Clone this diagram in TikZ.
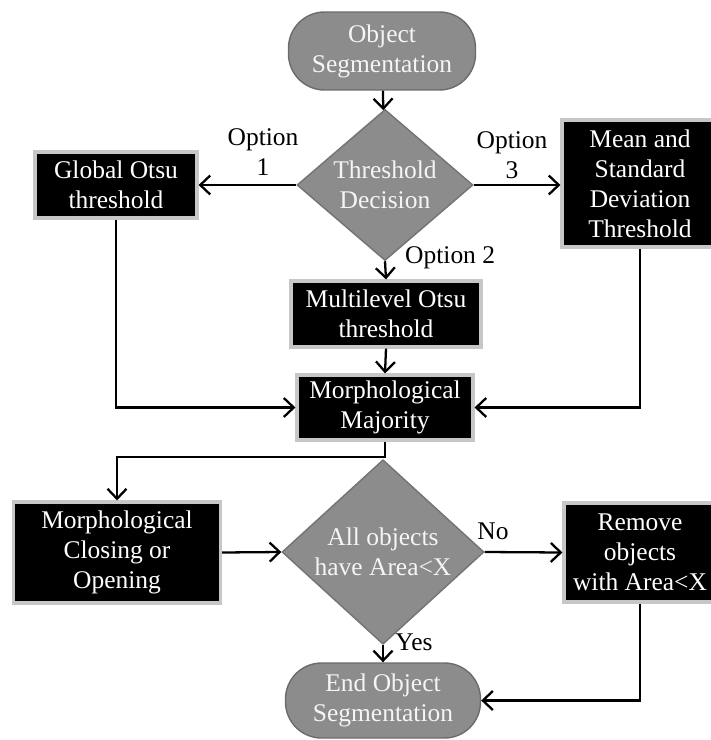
\documentclass[tikz,border=0pt]{standalone}
\usepackage{fontspec}
\setmainfont{Liberation Serif}
\usetikzlibrary{arrows.meta,shapes.geometric}
\tikzset{blk/.style={draw=black!22,line width=1.8pt,fill=black,text=white,align=center,inner sep=0pt},term/.style={draw=black!58,line width=0.8pt,fill=black!45,text=black!4,align=center,rounded corners=0.72cm,inner sep=0pt},dec/.style={diamond,draw=black!55,line width=0.8pt,fill=black!45,text=black!4,align=center,inner sep=0pt},arr/.style={-{Straight Barb[length=2mm,width=3.8mm,line width=1.3pt]},line width=1.3pt},lab/.style={align=center}}

\begin{document}
\begin{tikzpicture}[x=0.02cm,y=-0.02cm,font=\fontsize{14.5}{17}\selectfont]
\useasboundingbox (0,0) rectangle (710,740);
% top part: threshold choice
\node[term,minimum width=3.74cm,minimum height=1.56cm] (start) at (382,51) {Object\\Segmentation};
\node[dec,minimum width=3.52cm,minimum height=2.52cm] (thr) at (385,185) {Threshold\\Decision};
\node[blk,minimum width=3.24cm,minimum height=1.32cm] (gotsu) at (116,185) {Global Otsu\\threshold};
\node[blk,minimum width=3.12cm,minimum height=2.54cm] (msd) at (640,183.5) {Mean and\\Standard\\Deviation\\Threshold};
\node[blk,minimum width=3.8cm,minimum height=1.32cm] (motsu) at (386,314) {Multilevel Otsu\\threshold};
\node[blk,minimum width=3.52cm,minimum height=1.3cm] (major) at (385,407.5) {Morphological\\Majority};
% bottom part: area check
\node[blk,minimum width=4.14cm,minimum height=2.02cm] (close) at (117,552.5) {Morphological\\Closing or\\Opening};
\node[dec,minimum width=4.04cm,minimum height=3.06cm] (area) at (383,552) {All objects\\have Area<X};
\node[blk,minimum width=3.04cm,minimum height=1.98cm] (remove) at (640,552.5) {Remove\\objects\\with Area<X};
\node[term,minimum width=3.9cm,minimum height=1.5cm] (stop) at (383,700.5) {End Object\\Segmentation};
\coordinate (bend) at (385,457);

\draw[arr] (start) -- (thr);
\draw[arr] (thr.west) -- (gotsu.east);
\draw[arr] (thr.east) -- (thr.east -| msd.west);
\draw[arr] (thr.south) -- (motsu.north);
\draw[arr] (motsu.south) -- (major.north);
\draw[arr] (gotsu.south) |- (major.west);
\draw[arr] (msd.south) |- (major.east);
\draw[arr] (major.south) -- (bend) -| (close.north);
\draw[arr] (close.east) -- (area.west);
\draw[arr] (area.east) -- (remove.west);
\draw[arr] (area.south) -- (stop.north);
\draw[arr] (remove.south) |- (stop.east);

\node[lab] (opt1) at (263,152) {Option\\1};
\node[lab] (opt3) at (512,155) {Option\\3};
\node[lab,anchor=west] (opt2) at (399,258) {Option 2};
\node[lab] (no) at (493,531) {No};
\node[lab] (yes) at (414,642) {Yes};
\end{tikzpicture}
\end{document}
